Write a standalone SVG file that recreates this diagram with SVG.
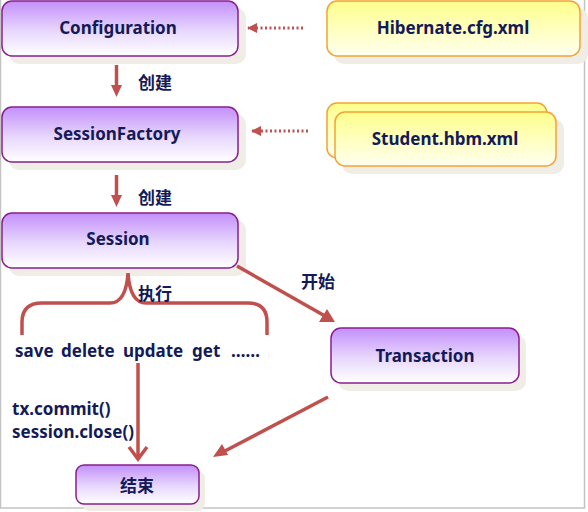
<svg xmlns="http://www.w3.org/2000/svg" width="588" height="512" viewBox="0 0 588 512">
<defs>
<linearGradient id="gp" x1="0" y1="0" x2="0" y2="1"><stop offset="0" stop-color="#c38ffa"/><stop offset="0.55" stop-color="#e8d8fd"/><stop offset="1" stop-color="#ffffff"/></linearGradient>
<linearGradient id="gy" x1="0" y1="0" x2="0" y2="1"><stop offset="0" stop-color="#ffff8c"/><stop offset="1" stop-color="#fffff0"/></linearGradient>
<marker id="ad" viewBox="0 0 10 10" refX="9" refY="5" markerWidth="3.5" markerHeight="3.5" orient="auto" markerUnits="strokeWidth"><path d="M0,0 L10,5 L0,10 z" fill="#c0504d"/></marker>
</defs>
<style>
.sh{fill:#efede6}
.pb{fill:url(#gp);stroke:#8a1e8e;stroke-width:1.5}
.yb{fill:url(#gy);stroke:#f5a233;stroke-width:1.5}
.t{font-family:"Noto Sans","Noto Sans CJK SC",sans-serif;font-weight:bold;font-size:17px;fill:#141a58}
.c{text-anchor:middle}
.ln{stroke:#c0504d;stroke-width:3.5;fill:none}
.dt{stroke:#c0504d;stroke-width:3;fill:none;stroke-dasharray:2 2.5}
</style>
<rect x="0.5" y="-2" width="584" height="510" fill="#ffffff" stroke="#c4c4c4" stroke-width="1.5"/>
<g id="configuration">
<rect class="sh" x="9" y="8" width="237" height="56" rx="10"/>
<rect class="pb" x="2" y="1" width="236" height="55" rx="10"/>
<text class="t c" x="118" y="34">Configuration</text>
</g>
<g id="hibernate">
<rect class="sh" x="334" y="8" width="254" height="56" rx="10"/>
<rect class="yb" x="327" y="1" width="253" height="55" rx="10"/>
<text class="t c" x="453" y="34">Hibernate.cfg.xml</text>
</g>
<g id="sessionfactory">
<rect class="sh" x="9" y="114" width="237" height="56" rx="10"/>
<rect class="pb" x="2" y="107" width="236" height="55" rx="10"/>
<text class="t c" x="117" y="140">SessionFactory</text>
</g>
<g id="student">
<rect class="yb" x="327" y="103" width="220" height="55" rx="10"/>
<rect class="sh" x="342" y="119" width="222" height="55" rx="10"/>
<rect class="yb" x="335" y="112" width="221" height="54" rx="10"/>
<text class="t c" x="445" y="145">Student.hbm.xml</text>
</g>
<g id="session">
<rect class="sh" x="9" y="220" width="237" height="56" rx="10"/>
<rect class="pb" x="2" y="213" width="236" height="55" rx="10"/>
<text class="t c" x="118" y="245">Session</text>
</g>
<g id="transaction">
<rect class="sh" x="338" y="335" width="188" height="56" rx="10"/>
<rect class="pb" x="331" y="328" width="188" height="55" rx="10"/>
<text class="t c" x="425" y="362">Transaction</text>
</g>
<g id="end">
<rect class="sh" x="82" y="471" width="123" height="40" rx="8"/>
<rect class="pb" x="76" y="465" width="123" height="39" rx="8"/>
<text class="t c" x="137" y="492">结束</text>
</g>
<g id="connectors">
<line class="dt" x1="303" y1="28" x2="248" y2="28" marker-end="url(#ad)"/>
<line class="dt" x1="308" y1="131" x2="252" y2="131" marker-end="url(#ad)"/>
<path d="M116.5,65 V86" class="ln"/>
<path d="M111,85 L122,85 L116.5,97 z" fill="#c0504d"/>
<path d="M116.5,175 V196" class="ln"/>
<path d="M111,195 L122,195 L116.5,207 z" fill="#c0504d"/>
<line class="ln" x1="237" y1="266" x2="325" y2="316"/>
<path d="M335,322 L319,322 L327,309 z" fill="#c0504d"/>
<line class="ln" x1="328" y1="397" x2="223" y2="452"/>
<path d="M213,457 L222,444 L228,455 z" fill="#c0504d"/>
<path class="ln" d="M22,335 V322 Q22,303 42,303 H110 Q126,303 128,273 Q130,303 146,303 H248 Q267,303 267,322 V335"/>
<path class="ln" d="M138,363 V459"/>
<path class="ln" d="M129,447 L138,459 L147,447"/>
</g>
<g id="labels">
<text class="t" x="138" y="89">创建</text>
<text class="t" x="138" y="204">创建</text>
<text class="t" x="138" y="300">执行</text>
<text class="t" x="301" y="288">开始</text>
<text class="t" y="357"><tspan x="15">save</tspan><tspan x="61">delete</tspan><tspan x="123">update</tspan><tspan x="192">get</tspan><tspan x="231">……</tspan></text>
<text class="t" x="12" y="415">tx.commit()</text>
<text class="t" x="12" y="438">session.close()</text>
</g>
</svg>
